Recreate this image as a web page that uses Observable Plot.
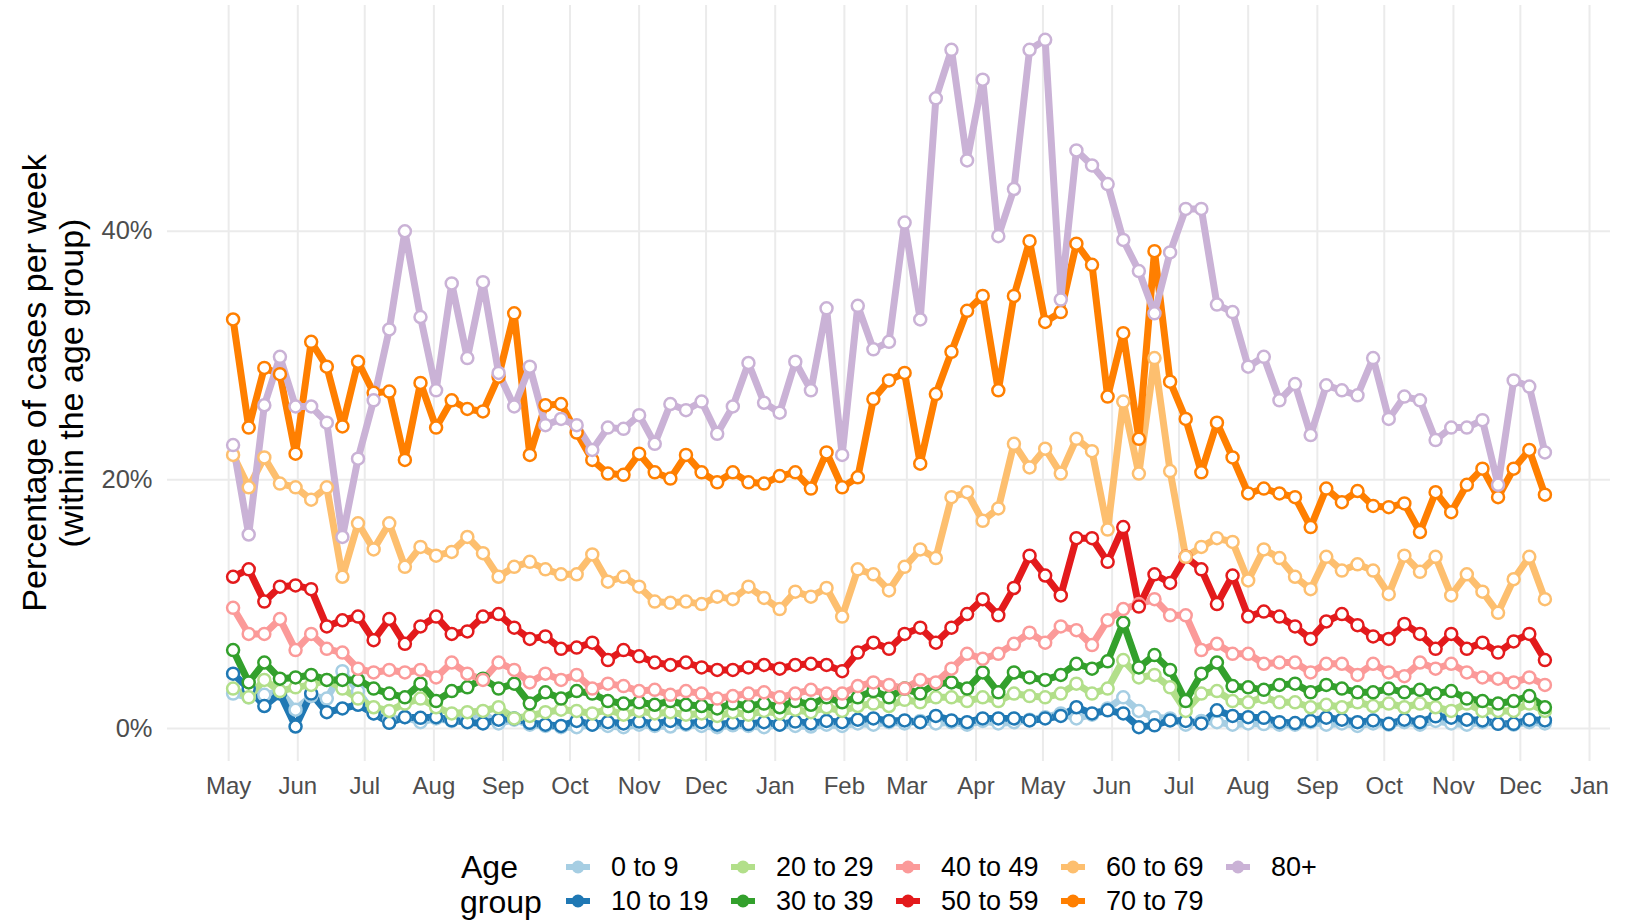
<!DOCTYPE html>
<html>
<head>
<meta charset="utf-8">
<script src="https://cdn.jsdelivr.net/npm/d3@7"></script>
<script src="https://cdn.jsdelivr.net/npm/@observablehq/plot@0.6"></script>
<style>
  html, body { margin: 0; padding: 0; background: #fff; }
  #chart { width: 1629px; height: 921px; font-family: "Liberation Sans", Arial, sans-serif; }
  #chart svg { display: block; }
</style>
</head>
<body>
<div id="chart"></div>
<script>
// ---- data ----
const ageGroups = ["0 to 9", "10 to 19", "20 to 29", "30 to 39", "40 to 49", "50 to 59", "60 to 69", "70 to 79", "80+"];
const groupColors = ["#a6cee3", "#1f78b4", "#b2df8a", "#33a02c", "#fb9a99", "#e31a1c", "#fdbf6f", "#ff7f00", "#cab2d6"];
const firstWeek = "2020-05-03"; // weekly points (Sundays)
const monthTicks = ["2020-05-01","2020-06-01","2020-07-01","2020-08-01","2020-09-01","2020-10-01","2020-11-01","2020-12-01",
  "2021-01-01","2021-02-01","2021-03-01","2021-04-01","2021-05-01","2021-06-01","2021-07-01","2021-08-01","2021-09-01",
  "2021-10-01","2021-11-01","2021-12-01","2022-01-01"];
const yTicks = [0, 20, 40];

const s0to9 = [2.8,2.5,2.7,3.0,1.5,2.6,2.4,4.6,3.0,1.2,0.7,0.9,0.5,0.8,0.6,0.9,1.2,0.4,0.7,0.3,0.2,0.1,
  0.1,0.3,0.2,0.1,0.3,0.2,0.15,0.3,0.2,0.1,0.25,0.2,0.1,0.3,0.2,0.15,0.3,0.2,0.4,0.3,0.5,0.4,0.6,
  0.4,0.5,0.3,0.6,0.4,0.5,0.7,0.9,1.2,0.8,1.1,1.6,2.5,1.4,0.9,0.8,0.3,0.6,0.5,0.3,0.4,0.35,0.3,
  0.3,0.5,0.3,0.4,0.2,0.4,0.3,0.5,0.3,0.6,0.4,0.3,0.5,0.4,0.3,0.5,0.4];
const s10to19 = [4.4,3.2,1.8,2.8,0.15,2.8,1.3,1.6,1.9,1.2,0.45,0.9,0.85,0.9,0.65,0.5,0.4,0.7,0.8,0.45,0.3,0.2,
  0.6,0.3,0.5,0.4,0.55,0.35,0.6,0.4,0.5,0.3,0.45,0.35,0.5,0.3,0.55,0.4,0.6,0.5,0.7,0.8,0.6,
  0.64,0.5,1.0,0.64,0.5,0.8,0.8,0.8,0.64,0.8,1.0,1.7,1.2,1.45,1.2,0.1,0.25,0.64,0.6,0.4,1.45,1.0,0.9,0.85,0.5,
  0.43,0.6,0.86,0.7,0.5,0.64,0.37,0.7,0.5,0.97,0.86,0.7,0.64,0.37,0.37,0.7,0.64];
const s20to29 = [3.2,2.5,3.9,3.0,3.3,3.5,3.9,3.2,2.4,1.7,1.4,2.0,2.4,1.7,1.2,1.3,1.4,1.7,0.8,1.0,1.3,1.5,
  1.4,1.2,1.5,1.1,1.4,1.2,1.3,1.1,1.2,1.0,1.3,1.1,1.4,1.2,1.5,1.3,1.7,1.4,1.8,2.0,1.8,2.3,2.1,
  2.5,2.5,2.2,2.5,2.2,2.8,2.6,2.5,2.8,3.6,2.8,3.2,5.5,4.1,4.3,3.3,1.4,2.8,3.0,2.2,2.1,2.5,2.1,
  2.1,1.7,1.9,1.7,2.1,1.8,2.0,1.7,2.0,1.7,1.4,2.0,1.4,1.4,1.4,2.0,1.4];
const s30to39 = [6.3,3.7,5.3,4.0,4.1,4.3,3.9,3.9,3.9,3.2,2.8,2.5,3.6,2.2,3.0,3.3,4.0,3.2,3.6,2.0,2.9,2.4,
  3.0,2.8,2.2,2.0,2.1,1.9,2.2,1.9,1.8,1.6,2.0,1.8,2.0,1.7,2.2,1.9,2.5,2.1,2.5,3.0,2.5,
  3.2,2.8,3.6,3.7,3.2,4.5,2.9,4.5,4.1,3.9,4.3,5.2,4.8,5.4,8.5,4.9,5.9,4.7,2.2,4.4,5.3,3.4,3.3,3.1,3.5,
  3.6,2.9,3.5,3.2,2.9,2.9,3.2,2.9,3.1,2.8,3.0,2.4,2.2,2.0,2.2,2.6,1.7];
const s40to49 = [9.7,7.6,7.6,8.8,6.3,7.6,6.4,6.1,4.8,4.5,4.7,4.5,4.7,4.1,5.3,4.4,3.9,5.3,4.7,3.7,
  4.4,3.9,4.3,3.2,3.6,3.4,3.0,3.1,2.7,3.0,2.8,2.4,2.6,2.8,2.9,2.5,2.8,3.1,2.8,2.8,
  3.4,3.7,3.5,3.2,3.9,3.7,4.8,6.0,5.6,6.0,6.8,7.7,6.9,8.2,7.9,6.7,8.7,9.6,10.0,10.4,
  9.1,9.1,6.3,6.8,6.0,6.0,5.2,5.3,5.3,4.5,5.2,5.2,4.3,5.2,4.5,4.2,5.3,4.8,5.2,4.5,
  4.1,4.0,3.7,4.1,3.5];
const s50to59 = [12.2,12.8,10.2,11.4,11.5,11.2,8.2,8.7,9.0,7.1,8.8,6.8,8.2,9.0,7.6,7.8,9.0,9.2,8.1,7.2,
  7.4,6.4,6.5,6.9,5.5,6.3,5.8,5.3,5.1,5.3,4.9,4.7,4.7,4.9,5.1,4.8,5.1,5.2,5.1,4.6,
  6.1,6.9,6.4,7.6,8.1,6.9,8.1,9.2,10.4,9.1,11.3,13.9,12.3,10.7,15.3,15.3,13.4,16.2,9.8,12.4,
  11.7,13.8,12.8,10.0,12.3,9.0,9.4,9.0,8.2,7.2,8.6,9.2,8.3,7.4,7.2,8.4,7.6,6.4,7.6,6.4,
  6.9,6.1,7.0,7.6,5.5];
const s60to69 = [22.0,19.4,21.8,19.7,19.4,18.4,19.4,12.2,16.5,14.4,16.5,13.0,14.6,13.9,14.2,15.4,14.1,12.2,13.0,13.4,
  12.8,12.4,12.4,14.0,11.8,12.2,11.4,10.2,10.1,10.2,10.0,10.6,10.4,11.4,10.5,9.6,11.0,10.6,11.3,9.0,
  12.8,12.4,11.1,13.0,14.4,13.7,18.6,19.0,16.7,17.7,22.9,21.0,22.5,20.5,23.3,22.3,16.0,26.3,20.5,29.8,
  20.7,13.8,14.6,15.3,15.0,11.9,14.4,13.7,12.2,11.2,13.8,12.7,13.2,12.7,10.8,13.9,12.6,13.8,10.7,12.4,
  11.0,9.3,12.0,13.8,10.4];
const s70to79 = [32.9,24.2,29.0,28.5,22.1,31.1,29.1,24.3,29.5,27.0,27.1,21.6,27.8,24.2,26.4,25.7,25.5,28.3,33.4,22.0,
  26.0,26.1,23.8,21.6,20.5,20.4,22.1,20.6,20.1,22.0,20.6,19.8,20.6,19.8,19.7,20.3,20.6,19.3,22.2,19.4,
  20.2,26.5,28.0,28.6,21.3,26.9,30.3,33.6,34.8,27.2,34.8,39.2,32.7,33.5,39.0,37.3,26.7,31.8,23.3,38.4,
  27.9,24.9,20.6,24.6,21.8,18.9,19.3,18.9,18.6,16.2,19.3,18.2,19.1,17.9,17.8,18.1,15.8,19.0,17.4,19.6,
  20.9,18.6,20.9,22.4,18.8];
const s80plus = [22.8,15.6,26.0,29.9,25.9,25.9,24.6,15.4,21.7,26.4,32.1,40.0,33.1,27.2,35.8,29.8,35.9,28.6,25.9,29.1,
  24.4,24.9,24.4,22.4,24.2,24.1,25.2,22.9,26.1,25.6,26.3,23.7,25.9,29.4,26.2,25.4,29.5,27.2,33.8,22.0,
  34.0,30.5,31.1,40.7,32.9,50.7,54.6,45.7,52.2,39.6,43.4,54.6,55.4,34.5,46.5,45.3,43.8,39.3,36.8,33.4,
  38.3,41.8,41.8,34.1,33.5,29.1,29.9,26.4,27.7,23.6,27.6,27.2,26.8,29.8,24.9,26.7,26.4,23.2,24.2,24.2,
  24.8,19.6,28.0,27.5,22.2];

const seriesValues = [s0to9, s10to19, s20to29, s30to39, s40to49, s50to59, s60to69, s70to79, s80plus];

// ---- build table ----
const startDate = new Date(firstWeek + "T00:00:00Z");
const weeks = s80plus.map((_, i) => d3.utcDay.offset(startDate, 7 * i));
const rows = [];
seriesValues.forEach((vals, g) => vals.forEach((v, i) => rows.push({date: weeks[i], value: v, group: ageGroups[g]})));

// ggplot-like 5% expansion
const xExt = d3.extent(weeks);
const xPad = (xExt[1] - xExt[0]) * 0.05;
const yExt = d3.extent(rows, d => d.value);
const yPad = (yExt[1] - yExt[0]) * 0.05;
const monthDates = monthTicks.map(s => new Date(s + "T00:00:00Z"));

const FONT = '"Liberation Sans", Arial, sans-serif';

const chart = Plot.plot({
  width: 1629,
  height: 800,
  marginLeft: 167,
  marginRight: 19,
  marginTop: 5,
  marginBottom: 39,
  style: {fontFamily: FONT, fontSize: "24px", background: "white", overflow: "visible"},
  x: {type: "utc", domain: [new Date(+xExt[0] - xPad), new Date(+xExt[1] + xPad)]},
  y: {domain: [yExt[0] - yPad, yExt[1] + yPad]},
  color: {domain: ageGroups, range: groupColors},
  marks: [
    Plot.gridX(monthDates, {stroke: "#ebebeb", strokeOpacity: 1, strokeWidth: 2}),
    Plot.gridY(yTicks, {stroke: "#ebebeb", strokeOpacity: 1, strokeWidth: 2}),
    Plot.axisX(monthDates, {tickFormat: d3.utcFormat("%b"), tickSize: 0, tickPadding: 15, color: "#4d4d4d", fontSize: 24, label: null}),
    Plot.axisY(yTicks, {tickFormat: d => d + "%", tickSize: 0, tickPadding: 15, color: "#4d4d4d", fontSize: 25.5, label: null}),
    Plot.line(rows, {x: "date", y: "value", z: "group", stroke: "group", strokeWidth: 7, strokeLinejoin: "round", strokeLinecap: "round"}),
    Plot.dot(rows, {x: "date", y: "value", stroke: "group", fill: "white", r: 6, strokeWidth: 2.5})
  ]
});

// y axis title (two lines, rotated)
const svg = d3.select(chart);
const yTitle = svg.append("text")
  .attr("transform", "translate(0,383) rotate(-90)")
  .attr("text-anchor", "middle")
  .attr("font-family", FONT)
  .attr("font-size", 34)
  .attr("fill", "#000");
yTitle.append("tspan").attr("x", 0).attr("y", 34).attr("dy", "0.35em").text("Percentage of cases per week");
yTitle.append("tspan").attr("x", 0).attr("y", 71).attr("dy", "0.35em").text("(within the age group)");

document.getElementById("chart").appendChild(chart);

// ---- legend ----
const leg = d3.select("#chart").append("svg")
  .attr("width", 1629).attr("height", 121)
  .style("display", "block")
  .attr("font-family", FONT);
leg.append("text").attr("x", 461).attr("y", 67).attr("dy", "0.35em").attr("font-size", 32).attr("fill", "#000").text("Age");
leg.append("text").attr("x", 460).attr("y", 102).attr("dy", "0.35em").attr("font-size", 32).attr("fill", "#000").text("group");
ageGroups.forEach((g, k) => {
  const col = Math.floor(k / 2), row = k % 2;
  const cx = 578 + 165 * col, cy = row === 0 ? 67 : 101;
  const item = leg.append("g");
  item.append("line").attr("x1", cx - 12).attr("x2", cx + 12).attr("y1", cy).attr("y2", cy)
    .attr("stroke", groupColors[k]).attr("stroke-width", 6);
  item.append("circle").attr("cx", cx).attr("cy", cy).attr("r", 5.5)
    .attr("fill", groupColors[k]).attr("stroke", groupColors[k]).attr("stroke-width", 2);
  item.append("text").attr("x", cx + 33).attr("y", cy).attr("dy", "0.35em")
    .attr("font-size", 27).attr("fill", "#000").text(g);
});
</script>
</body>
</html>
